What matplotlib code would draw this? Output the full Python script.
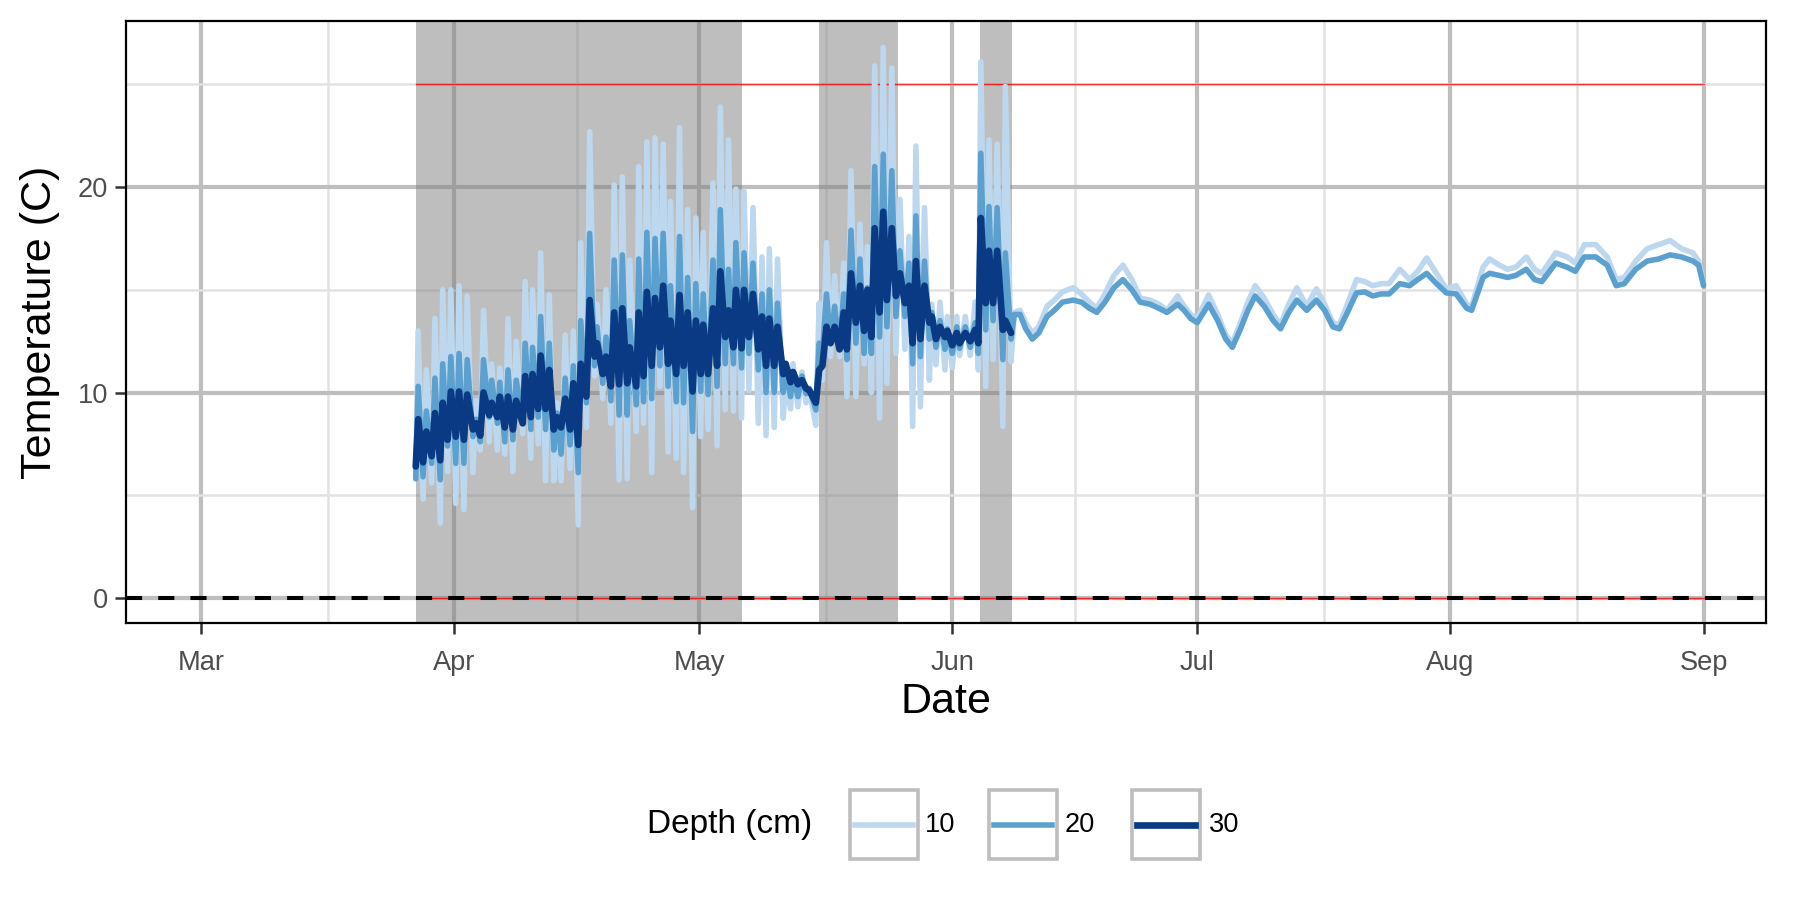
import numpy as np
import pandas as pd
import matplotlib
matplotlib.use("Agg")
import matplotlib.pyplot as plt
import matplotlib.dates as mdates
from matplotlib.ticker import FixedLocator
from matplotlib.patches import Rectangle
from matplotlib.lines import Line2D

plt.rcParams['font.family'] = ['Liberation Sans', 'DejaVu Sans']

BASE = pd.Timestamp('2019-03-01')

# ---------------- data (days after 1 March) ----------------
depths = ['10', '20', '30']
colors = ['#BDD7EE', '#5BA0CF', '#0B3A84']

# period with strong daily swings (all three depths)
days_a = [26.3, 26.6, 27.2, 27.6, 28.25, 28.65, 29.3, 29.6, 30.2, 30.6, 31.2, 31.6,
          32.2, 32.6, 33.3, 33.7, 34.2, 34.6, 35.3, 35.6, 36.3, 36.6, 37.2, 37.6,
          38.2, 38.6, 39.4, 39.7, 40.4, 40.6, 41.3, 41.6, 42.2, 42.65, 43.2, 43.6,
          44.1, 44.6, 45.2, 45.6, 46.2, 46.5, 47.2, 47.6, 48.2, 48.5, 49.2, 49.6,
          50.2, 50.6, 51.2, 51.6, 52.2, 52.5, 53.3, 53.6, 54.2, 54.6, 55.2, 55.6,
          56.2, 56.6, 57.2, 57.5, 58.2, 58.6, 59.1, 59.6, 60.2, 60.6, 61.2, 61.5,
          62.1, 62.7, 63.2, 63.6, 64.2, 64.6, 65.2, 65.5, 66.2, 66.5, 67.1, 67.6,
          68.25, 68.7, 69.2, 69.6, 70.2, 70.6, 71.3, 71.6, 72.2, 72.5, 73.1, 73.6,
          74.1, 74.5, 75.3, 75.7, 76.1, 76.6, 77.1, 77.6, 78.2, 78.7, 79.1, 79.6,
          80.2, 80.7, 81.2, 81.6, 82.1, 82.5, 83.1, 83.55, 84.0, 84.6, 85.1, 85.6,
          86.2, 86.7, 87.15, 87.55, 88.1, 88.6, 89.2, 89.5, 90.0, 90.5, 91.1, 91.4,
          92.0, 92.55, 92.9, 93.6, 94.2, 94.8, 95.2, 95.5, 96.1, 96.5, 97.0, 97.5,
          98.2, 98.5, 99.2]
temp10_a = [6.0, 13.0, 4.8, 11.1, 5.6, 13.6, 3.65, 15.0, 6.15, 15.0, 4.6, 15.2,
            4.3, 14.7, 6.1, 9.6, 7.2, 14.0, 7.6, 11.4, 7.2, 11.2, 7.0, 13.6,
            6.15, 12.5, 8.0, 15.4, 6.8, 15.0, 7.5, 16.8, 5.7, 14.75, 5.7, 9.5,
            5.7, 12.8, 6.3, 13.0, 3.55, 17.3, 8.3, 22.7, 10.8, 14.3, 9.7, 15.0,
            8.5, 20.1, 5.75, 20.5, 5.8, 16.45, 8.1, 21.0, 8.5, 22.2, 6.1, 22.4,
            10.3, 22.1, 7.1, 19.3, 6.8, 22.9, 6.1, 18.9, 4.4, 18.5, 7.85, 17.8,
            8.2, 20.2, 7.4, 23.9, 9.15, 22.3, 9.1, 19.9, 8.75, 19.8, 10.1, 19.0,
            8.5, 16.6, 7.9, 17.0, 8.3, 16.5, 8.75, 10.6, 9.2, 11.4, 9.3, 11.0,
            9.5, 10.1, 8.4, 14.35, 10.6, 17.3, 11.75, 15.7, 11.75, 16.3, 9.8, 20.8,
            9.8, 18.2, 11.4, 17.1, 10.0, 25.9, 8.75, 26.8, 10.45, 25.8, 11.9, 19.4,
            12.1, 17.6, 8.35, 22.0, 9.3, 19.0, 10.6, 14.3, 11.35, 14.4, 11.1, 13.7,
            11.2, 13.7, 11.8, 13.7, 11.8, 14.4, 11.1, 26.1, 10.3, 22.3, 11.6, 22.1,
            8.35, 24.9, 11.5]
temp20_a = [5.8, 10.3, 5.9, 9.1, 6.55, 10.7, 5.75, 11.4, 7.4, 11.75, 6.55, 11.9,
            6.55, 11.6, 7.85, 8.7, 7.6, 11.6, 8.8, 10.6, 8.5, 10.5, 7.6, 11.1,
            7.7, 10.6, 8.8, 12.4, 8.2, 12.2, 8.8, 13.7, 8.2, 12.4, 7.2, 9.0,
            7.0, 10.7, 7.45, 11.3, 6.1, 13.5, 9.5, 17.75, 11.3, 13.2, 10.45, 12.7,
            9.6, 16.45, 8.9, 16.7, 8.9, 13.5, 9.4, 16.5, 9.55, 17.8, 9.7, 17.5,
            11.3, 17.75, 10.3, 15.2, 9.55, 17.6, 9.5, 15.6, 8.1, 15.3, 10.05, 14.8,
            9.9, 16.45, 10.3, 18.9, 11.4, 16.0, 11.4, 17.3, 11.2, 16.8, 11.9, 16.3,
            11.1, 14.8, 10.0, 15.0, 10.0, 14.35, 10.0, 11.1, 9.8, 10.9, 9.8, 10.8,
            9.95, 10.2, 9.15, 12.4, 11.9, 14.8, 12.4, 14.2, 12.1, 14.8, 11.6, 17.9,
            12.4, 16.5, 11.9, 15.1, 11.9, 21.0, 12.7, 21.6, 13.2, 20.8, 13.7, 16.9,
            13.7, 16.3, 11.4, 18.6, 11.75, 16.4, 12.6, 13.9, 12.2, 13.5, 12.1, 13.1,
            11.9, 13.2, 12.15, 13.2, 12.2, 13.4, 11.9, 21.65, 13.05, 19.05, 13.5, 19.0,
            11.6, 16.8, 12.6]
temp30_a = [6.4, 8.7, 6.6, 8.1, 6.9, 9.0, 6.7, 9.5, 7.7, 10.05, 7.85, 10.05,
            7.7, 9.9, 8.2, 8.5, 7.9, 10.0, 8.9, 9.5, 8.8, 9.8, 8.3, 9.8,
            8.2, 9.6, 8.5, 10.8, 8.8, 10.9, 9.2, 11.8, 9.2, 11.1, 8.2, 8.8,
            8.3, 9.7, 8.2, 10.45, 7.45, 11.4, 9.8, 14.5, 11.75, 12.4, 10.9, 11.75,
            10.3, 13.9, 10.4, 14.1, 10.45, 12.2, 10.3, 13.9, 10.8, 14.9, 11.3, 14.6,
            12.2, 15.2, 11.4, 13.5, 10.9, 14.75, 11.3, 13.9, 10.05, 13.5, 10.9, 13.3,
            10.9, 14.1, 11.3, 15.9, 12.7, 14.0, 12.2, 15.0, 12.15, 15.0, 12.7, 14.8,
            12.1, 13.7, 11.3, 13.6, 11.3, 13.2, 10.9, 11.4, 10.5, 11.0, 10.4, 10.6,
            10.2, 10.1, 9.5, 11.1, 11.3, 13.2, 12.4, 13.2, 12.1, 13.9, 12.1, 15.8,
            13.4, 15.2, 13.0, 15.0, 12.7, 18.0, 13.9, 18.8, 14.5, 18.0, 14.7, 15.8,
            14.35, 15.2, 12.4, 16.4, 12.6, 15.2, 13.4, 13.7, 12.6, 13.2, 12.7, 13.0,
            12.3, 12.9, 12.4, 12.9, 12.5, 13.05, 12.4, 18.5, 14.35, 16.9, 14.35, 16.9,
            13.05, 13.5, 12.9]

# calmer summer period (10 and 20 cm only)
days_b = [99.6, 100.3, 101.0, 101.8, 102.6, 103.6, 104.5, 105.5, 106.8, 107.8,
          108.8, 109.7, 110.7, 111.8, 112.9, 114.0, 115.0, 116.2, 117.3, 118.3,
          119.6, 120.4, 121.2, 122.0, 123.4, 124.5, 125.5, 126.3, 127.3, 128.2,
          129.1, 130.2, 131.3, 132.2, 133.2, 134.2, 135.4, 136.6, 137.6, 138.6,
          139.4, 140.4, 141.5, 142.5, 143.5, 144.5, 145.5, 146.8, 148.0, 149.0,
          150.1, 151.3, 152.5, 153.7, 155.0, 155.6, 157.0, 157.8, 159.0, 160.0,
          161.0, 162.3, 163.3, 164.2, 165.9, 167.3, 168.3, 169.4, 170.8, 172.2,
          173.3, 174.3, 175.7, 177.1, 178.5, 179.9, 181.3, 182.7, 183.4, 184.0]
temp10_b = [13.9, 14.0, 13.4, 12.9, 13.2, 14.2, 14.5, 14.9, 15.1, 14.8,
            14.4, 14.1, 14.8, 15.7, 16.2, 15.5, 14.6, 14.5, 14.3, 14.0,
            14.7, 14.2, 13.8, 13.6, 14.75, 13.8, 12.8, 12.4, 13.4, 14.4,
            15.2, 14.6, 13.8, 13.3, 14.3, 15.1, 14.2, 15.05, 14.3, 13.4,
            13.3, 14.3, 15.5, 15.4, 15.2, 15.3, 15.3, 16.0, 15.5, 15.9,
            16.55, 15.8, 15.05, 15.2, 14.3, 14.2, 16.1, 16.5, 16.2, 16.0,
            16.1, 16.6, 16.0, 15.8, 16.8, 16.6, 16.3, 17.2, 17.2, 16.6,
            15.5, 15.6, 16.4, 17.0, 17.2, 17.4, 17.0, 16.8, 16.4, 15.3]
temp20_b = [13.8, 13.8, 13.1, 12.6, 12.9, 13.7, 14.0, 14.4, 14.5, 14.4,
            14.1, 13.9, 14.4, 15.1, 15.5, 15.0, 14.4, 14.3, 14.1, 13.9,
            14.3, 14.0, 13.6, 13.4, 14.3, 13.5, 12.6, 12.2, 13.1, 14.0,
            14.7, 14.2, 13.5, 13.1, 13.9, 14.5, 14.0, 14.5, 14.0, 13.2,
            13.1, 13.9, 14.85, 14.9, 14.7, 14.8, 14.8, 15.3, 15.2, 15.5,
            15.8, 15.3, 14.85, 14.8, 14.1, 14.0, 15.6, 15.8, 15.7, 15.6,
            15.7, 16.0, 15.5, 15.4, 16.3, 16.1, 15.9, 16.6, 16.6, 16.2,
            15.2, 15.3, 16.0, 16.4, 16.5, 16.7, 16.6, 16.4, 16.2, 15.2]

shade_start = [26.33, 75.72, 95.4]
shade_end = [66.2, 85.39, 99.28]
threshold_values = [25, 0]
threshold_days = [26.3, 184.0]

month_labels = ['Mar', 'Apr', 'May', 'Jun', 'Jul', 'Aug', 'Sep']
month_starts = ['2019-03-01', '2019-04-01', '2019-05-01', '2019-06-01',
                '2019-07-01', '2019-08-01', '2019-09-01']
y_major = [0, 10, 20]
y_minor = [5, 15, 25]


def to_date(d):
    return BASE + pd.to_timedelta(np.asarray(d, dtype=float), unit='D')


series = {
    '10': (days_a + days_b, temp10_a + temp10_b),
    '20': (days_a + days_b, temp20_a + temp20_b),
    '30': (days_a, temp30_a),
}

# ---------------- figure ----------------
W, H = 1800, 900
fig = plt.figure(figsize=(9, 4.5), dpi=200)
px_l, px_r, px_t, px_b = 126, 1765.6, 20.7, 623
ax = fig.add_axes([px_l / W, 1 - px_b / H, (px_r - px_l) / W, (px_b - px_t) / H])

# shading
for s, e in zip(shade_start, shade_end):
    ax.axvspan(to_date([s])[0], to_date([e])[0], color='#7F7F7F', alpha=0.5,
               lw=0, zorder=1)

# thresholds
for v in threshold_values:
    ax.plot(to_date(threshold_days), [v, v], color='#FF0000', lw=0.5, alpha=0.8,
            zorder=2)

# series
for dep, col in zip(depths, colors):
    d, t = series[dep]
    ax.plot(to_date(d), t, color=col, lw=2.0 if dep != '30' else 2.4,
            solid_joinstyle='round', solid_capstyle='round', zorder=3)

ax.axhline(0, color='black', lw=1.45, ls=(0, (4, 4)), zorder=4)

# axes limits
x0 = mdates.date2num(to_date([-9.18])[0])
x1 = mdates.date2num(to_date([191.6])[0])
ax.set_xlim(x0, x1)
ax.set_ylim(-1.22, 28.1)

mnum = [mdates.date2num(pd.Timestamp(m)) for m in month_starts]
ax.xaxis.set_major_locator(FixedLocator(mnum))
ax.set_xticklabels(month_labels)
ax.xaxis.set_minor_locator(FixedLocator([(a + b) / 2 for a, b in zip(mnum[:-1], mnum[1:])]))
ax.yaxis.set_major_locator(FixedLocator(y_major))
ax.yaxis.set_minor_locator(FixedLocator(y_minor))

ax.set_axisbelow(True)
ax.grid(which='major', color='#BEBEBE', lw=1.5)
ax.grid(which='minor', color='#E2E2E2', lw=0.9)

ax.tick_params(which='major', length=3.9, width=0.9, color='#333333',
               labelsize=9.8, labelcolor='#4D4D4D')
ax.tick_params(axis='x', which='major', pad=5.8)
ax.tick_params(axis='y', which='major', pad=2.5)
ax.tick_params(which='minor', length=0)
for sp in ax.spines.values():
    sp.set_color('black')
    sp.set_linewidth(0.8)

fig.text((px_l + px_r) / 2 / W, 1 - 702 / H, 'Date', ha='center', va='center',
         fontsize=15.5, color='black')
fig.text(40 / W, 1 - 322 / H, 'Temperature (C)', ha='center', va='center',
         rotation=90, fontsize=15.5, color='black')

# legend (drawn in figure pixels)
leg_y0, leg_y1 = 790, 859
fig.text(730 / W, 1 - 825 / H, 'Depth (cm)', ha='center', va='center',
         fontsize=12, color='black')
key_x = [849.5, 989.0, 1132.0]
lab_x = [925, 1065, 1209]
for dep, col, kx, lx in zip(depths, colors, key_x, lab_x):
    kw = 68
    fig.add_artist(Rectangle((kx / W, 1 - leg_y1 / H), kw / W, (leg_y1 - leg_y0) / H,
                             transform=fig.transFigure, facecolor='white',
                             edgecolor='#BEBEBE', lw=1.3))
    ym = 1 - (leg_y0 + leg_y1) / 2 / H
    fig.add_artist(Line2D([(kx + 5) / W, (kx + kw - 5) / W], [ym, ym],
                          transform=fig.transFigure, color=col,
                          lw=2.0 if dep != '30' else 2.4))
    fig.text(lx / W, ym, dep, ha='left', va='center', fontsize=9.8, color='black')

fig.savefig('out.png', dpi=200)
